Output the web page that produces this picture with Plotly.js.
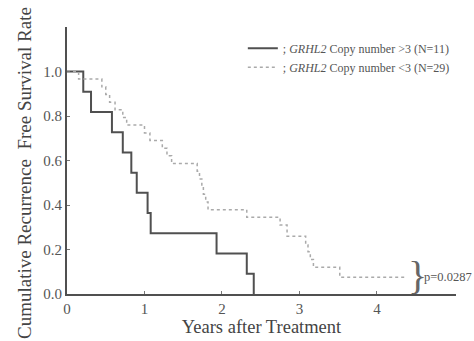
<!DOCTYPE html>
<html><head><meta charset="utf-8">
<script src="https://cdn.plot.ly/plotly-3.0.1.min.js"></script>
<style>html,body{margin:0;padding:0;background:#fff}#c{width:474px;height:341px}</style>
</head><body><div id="c"></div>
<script>
var highTimes = [0, 0.21, 0.31, 0.58, 0.72, 0.83, 0.90, 1.04, 1.08, 1.93, 2.32, 2.41];
var highSurv  = [1.0, 0.909, 0.818, 0.727, 0.636, 0.545, 0.455, 0.364, 0.273, 0.182, 0.091, 0.0];
var lowTimes = [0, 0.15, 0.45, 0.50, 0.55, 0.62, 0.72, 0.77, 1.00, 1.07, 1.23, 1.29, 1.35, 1.68, 1.71, 1.74, 1.76, 1.79, 1.82, 2.32, 2.75, 2.84, 3.08, 3.11, 3.14, 3.18, 3.52, 4.36];
var lowSurv  = [1.0, 0.966, 0.931, 0.897, 0.862, 0.828, 0.793, 0.759, 0.724, 0.690, 0.655, 0.621, 0.586, 0.552, 0.517, 0.483, 0.448, 0.414, 0.379, 0.345, 0.310, 0.260, 0.220, 0.190, 0.155, 0.120, 0.075, 0.075];
var legendNames = ['; <i>GRHL2</i> Copy number >3 (N=11)', '; <i>GRHL2</i> Copy number <3 (N=29)'];
var xTicks = [0, 1, 2, 3, 4];
var yTicks = [0, 0.2, 0.4, 0.6, 0.8, 1.0];
var xTitle = 'Years after Treatment';
var yTitle = 'Cumulative Recurrence  Free Survival Rate';
var pText = 'p=0.0287';

var serif = 'Liberation Serif, Times New Roman, serif';
var traces = [
  {x: highTimes, y: highSurv, mode: 'lines', line: {shape: 'hv', color: '#505050', width: 2}, name: legendNames[0]},
  {x: lowTimes, y: lowSurv, mode: 'lines', line: {shape: 'hv', color: '#aaa', width: 1.5, dash: 'dot'}, name: legendNames[1]}
];
var layout = {
  width: 474, height: 341,
  margin: {l: 67, r: 18, t: 27, b: 47},
  paper_bgcolor: '#fff', plot_bgcolor: '#fff',
  font: {family: serif, color: '#444'},
  showlegend: true,
  legend: {x: 0.452, y: 0.975, xanchor: 'left', yanchor: 'top', font: {size: 12, color: '#555', family: serif}, itemwidth: 30, bgcolor: 'rgba(0,0,0,0)'},
  xaxis: {range: [0, 5.02], tickvals: xTicks, ticktext: xTicks.map(String), showgrid: false, zeroline: false,
          showline: true, linecolor: '#505050', linewidth: 2, ticks: 'inside', ticklen: 3, tickcolor: '#777',
          tickfont: {size: 15, color: '#555'},
          title: {text: xTitle, font: {size: 18.5, color: '#444'}, standoff: 2}},
  yaxis: {range: [0, 1.2], tickvals: yTicks, ticktext: yTicks.map(function(v){return v.toFixed(1);}), showgrid: false, zeroline: false,
          showline: true, linecolor: '#505050', linewidth: 2, ticks: 'inside', ticklen: 3, tickcolor: '#777',
          tickfont: {size: 15, color: '#555'}},
  annotations: [
    {x: 24, y: 173, xref: 'paper', yref: 'paper', text: yTitle, textangle: -90, showarrow: false,
     font: {size: 19, color: '#444', family: serif}, xanchor: 'center', yanchor: 'middle'},
    {x: 4.52, y: 0.085, xref: 'x', yref: 'y', text: '}', showarrow: false, font: {size: 40, color: '#666', family: serif}, xanchor: 'center', yanchor: 'middle'},
    {x: 4.58, y: 0.075, xref: 'x', yref: 'y', text: pText, showarrow: false, font: {size: 12.5, color: '#555', family: serif}, xanchor: 'left', yanchor: 'middle'}
  ]
};
// convert pixel position of the y title into paper coordinates
var pw = 474 - 67 - 18, ph = 341 - 27 - 47;
layout.annotations[0].x = (24 - 67) / pw;
layout.annotations[0].y = (341 - 47 - 173) / ph;
Plotly.newPlot('c', traces, layout, {displayModeBar: false, staticPlot: true});
</script></body></html>
